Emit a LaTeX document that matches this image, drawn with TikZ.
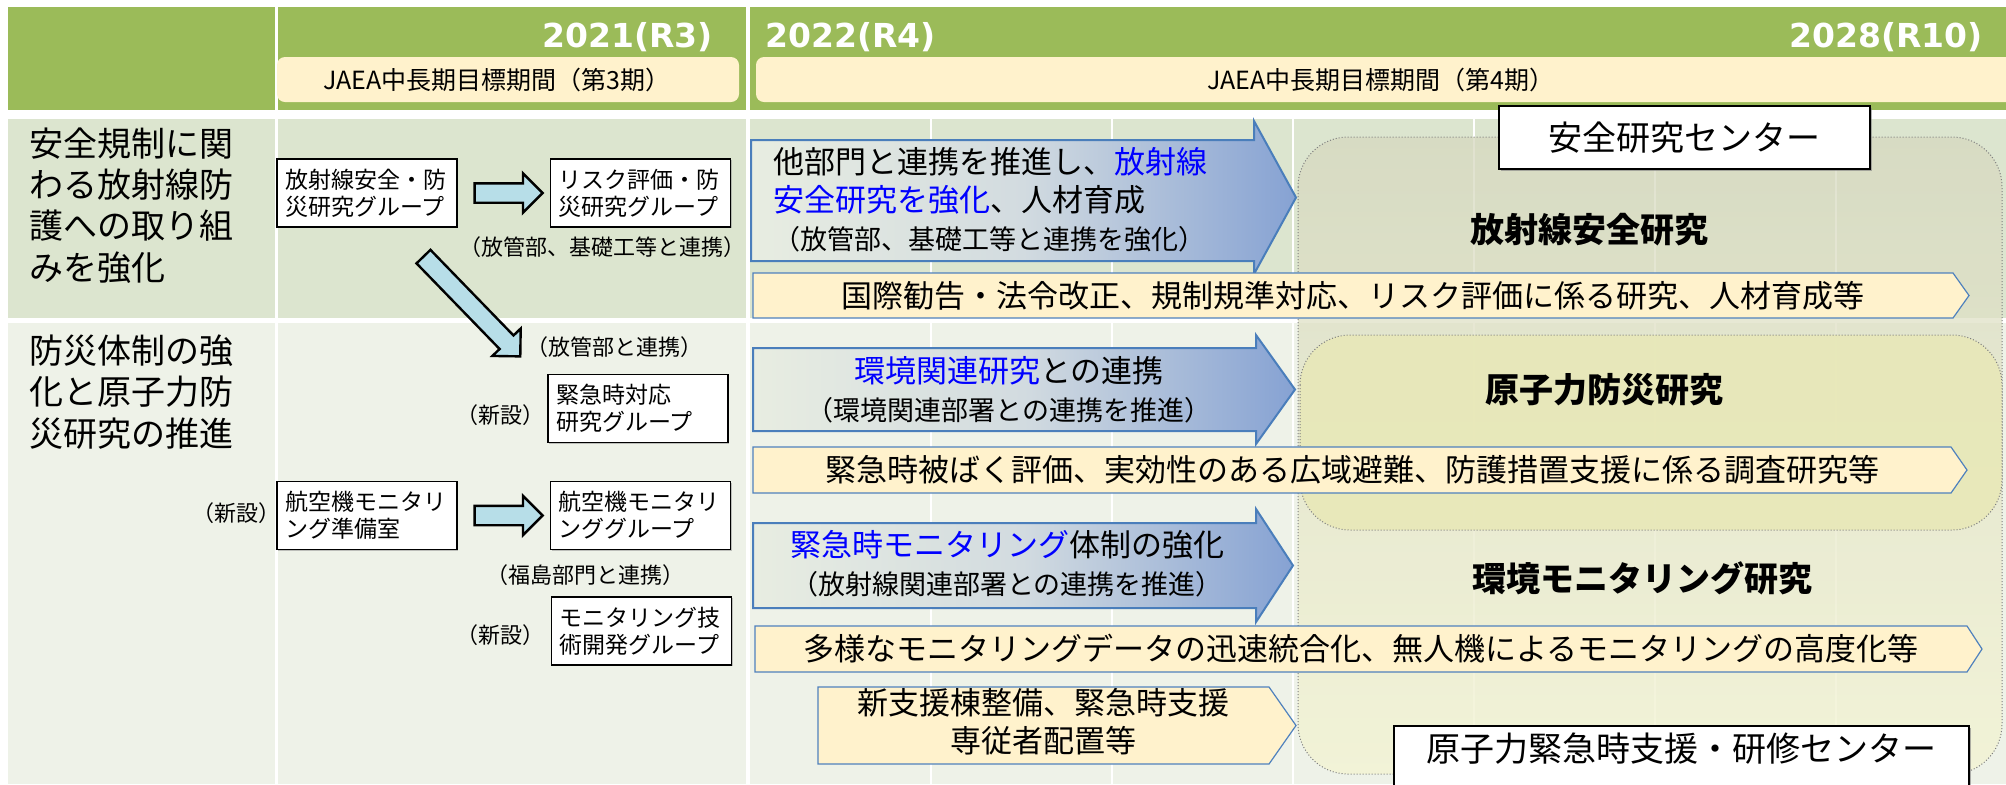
\documentclass[tikz,border=0pt]{standalone}
\usepackage{fontspec}
\setmainfont{Noto Sans CJK JP}
\newfontfamily\yearfont{DejaVu Sans}
\usetikzlibrary{shapes.arrows,positioning,calc,shadows}

\definecolor{hdrgreen}{HTML}{9BBB59}
\definecolor{hdryellow}{HTML}{FFF2CC}
\definecolor{rowone}{HTML}{DCE5CF}
\definecolor{rowtwo}{HTML}{EEF2E8}
\definecolor{barfill}{HTML}{FFF2CC}
\definecolor{barline}{HTML}{4F81BD}
\definecolor{arrline}{HTML}{4A7EBB}
\definecolor{arrleft}{HTML}{E8EDE1}
\definecolor{arrmid}{HTML}{D2DBE0}
\definecolor{arrright}{HTML}{86A2D3}
\definecolor{blkfill}{HTML}{B7DEE8}
\definecolor{ctrtop}{HTML}{D6D8C0}
\definecolor{ctrbot}{HTML}{F4F4D2}
\definecolor{bousai}{HTML}{E8E8B8}
\definecolor{dotline}{HTML}{7F7F7F}
\definecolor{linkblue}{HTML}{0000FF}

\newcommand{\fsbig}{\fontsize{17pt}{20.6pt}\selectfont}
\newcommand{\fsmid}{\fontsize{15.5pt}{19pt}\selectfont}
\newcommand{\fsparen}{\fontsize{13.5pt}{19pt}\selectfont}
\newcommand{\fsbox}{\fontsize{11.5pt}{13.5pt}\selectfont}
\newcommand{\fsnote}{\fontsize{11pt}{13pt}\selectfont}
\newcommand{\fshdr}{\fontsize{12.5pt}{15pt}\selectfont}

\begin{document}
\begin{tikzpicture}[x=0.5pt,y=-0.5pt,
    hdr/.style={fill=hdrgreen},
    period/.style={fill=hdryellow,rounded corners=4pt},
    year/.style={text=white,inner sep=0pt,font=\yearfont\fontsize{16.5pt}{20pt}\selectfont\bfseries},
    theme/.style={anchor=west,align=left,inner sep=0pt,font=\fsbig},
    grp/.style={draw=black,line width=0.8pt,fill=white,align=left,text width=82pt,inner xsep=4pt,
                minimum height=34pt,font=\fsbox,
                drop shadow={shadow xshift=0.7pt,shadow yshift=-0.7pt,opacity=0.45}},
    note/.style={inner sep=0pt,font=\fsnote},
    blkarr/.style={single arrow,draw=black,line width=1.2pt,fill=blkfill,inner sep=4.25pt,
                   single arrow head extend=5pt},
    fatarr/.style={draw=arrline,line width=1pt,left color=arrleft,right color=arrright,middle color=arrmid},
    bar/.style={draw=barline,line width=0.6pt,fill=barfill},
    bartext/.style={inner sep=0pt,font=\fsmid,align=center},
    ctr/.style={draw=black,line width=1pt,fill=white,font=\fsbig,
                drop shadow={shadow xshift=1.2pt,shadow yshift=-1.2pt,opacity=0.6}},
    topic/.style={inner sep=0pt,font=\fsbig\bfseries},
    dotbox/.style={draw=dotline,densely dotted,line width=0.5pt,rounded corners=25pt}]

\path[use as bounding box] (0,0) rectangle (2006,784);

% header
\fill[hdr] (8,7) rectangle (275,110);
\fill[hdr] (278,7) rectangle (746,110);
\fill[hdr] (750,7) rectangle (2006,110);
\fill[period] (277,57) rectangle (739,102);
\fill[period] (756,57) rectangle (2014,102);
\node[year,anchor=east] (y21) at (713,37) {2021(R3)};
\node[year,anchor=west] (y22) at (765,37) {2022(R4)};
\node[year,anchor=east] (y28) at (1983,37) {2028(R10)};
\node[font=\fshdr] (p3) at (497,80) {JAEA中長期目標期間（第3期）};
\node[font=\fshdr] (p4) at (1381,80) {JAEA中長期目標期間（第4期）};

% body rows
\fill[rowone] (8,119) rectangle (275,318);
\fill[rowone] (278,119) rectangle (746,318);
\fill[rowone] (750,119) rectangle (2006,318);
\fill[rowtwo] (8,323) rectangle (275,784);
\fill[rowtwo] (278,323) rectangle (746,784);
\fill[rowtwo] (750,323) rectangle (2006,784);
\foreach \gx in {931,1112,1293,1474,1655,1836}
  \draw[white,line width=1.2pt] (\gx,119) -- (\gx,318) (\gx,323) -- (\gx,784);

% centre areas
\path[dotbox,top color=ctrtop,bottom color=ctrbot,fill opacity=0.75] (1298,137) rectangle (2002,774);
\path[dotbox,fill=bousai,fill opacity=0.9] (1300,335) rectangle (2002,530);

% row themes
\node[theme] (th1) at (29,205.5) {安全規制に関\\わる放射線防\\護への取り組\\みを強化};
\node[theme] (th2) at (29,392) {防災体制の強\\化と原子力防\\災研究の推進};

% groups until R3
\node[grp] (radgrp) at (367,193) {放射線安全・防\\災研究グループ};
\node[grp,right=46pt of radgrp] (riskgrp) {リスク評価・防\\災研究グループ};
\node[grp] (emgrp) at (638,408.5) {緊急時対応\\研究グループ};
\node[grp] (airprep) at (367,515.5) {航空機モニタリ\\ング準備室};
\node[grp,right=46pt of airprep] (airgrp) {航空機モニタリ\\ンググループ};
\node[grp] (montech) at (641.5,631) {モニタリング技\\術開発グループ};

\node[note] (n1) at (602,247) {（放管部、基礎工等と連携）};
\node[note] (n2) at (614,347) {（放管部と連携）};
\node[note] (n3) at (585,575) {（福島部門と連携）};
\node[note] (new1) at (500,415) {（新設）};
\node[note] (new2) at (236,513) {（新設）};
\node[note] (new3) at (500,635) {（新設）};

\path (radgrp) -- node[blkarr,minimum height=34pt] {} (riskgrp);
\path (airprep) -- node[blkarr,minimum height=34pt] {} (airgrp);
\coordinate (dtail) at (420,253);
\coordinate (dtip) at (517,353);
\path (dtail) -- node[blkarr,sloped,minimum height=69.5pt] {} (dtip);

% R4 onwards
\path[fatarr] (751,140) -- (1254,140) -- (1254,121) -- (1296,197.5) -- (1254,274) -- (1254,261) -- (751,261) -- cycle;
\node[anchor=west,align=left,inner sep=0pt,font=\fsmid] (a1) at (773,200)
  {他部門と連携を推進し、\textcolor{linkblue}{放射線}\\\textcolor{linkblue}{安全研究を強化}、人材育成\\{\fsparen（放管部、基礎工等と連携を強化）}};
\path[bar] (753,273) -- (1953,273) -- (1969,295.5) -- (1953,318) -- (753,318) -- cycle;
\node[bartext] (b1) at (1353,295.5) {国際勧告・法令改正、規制規準対応、リスク評価に係る研究、人材育成等};

\path[fatarr] (753,348) -- (1256,348) -- (1256,335) -- (1295,389.5) -- (1256,444) -- (1256,431) -- (753,431) -- cycle;
\node[bartext] (a2) at (1009,390) {\textcolor{linkblue}{環境関連研究}との連携\\{\fsparen（環境関連部署との連携を推進）}};
\path[bar] (753,447) -- (1951,447) -- (1967,470) -- (1951,493) -- (753,493) -- cycle;
\node[bartext] (b2) at (1352,470) {緊急時被ばく評価、実効性のある広域避難、防護措置支援に係る調査研究等};

\path[fatarr] (753,523) -- (1256,523) -- (1256,509) -- (1293,565.5) -- (1256,622) -- (1256,608) -- (753,608) -- cycle;
\node[bartext] (a3) at (1007,563.5) {\textcolor{linkblue}{緊急時モニタリング}体制の強化\\{\fsparen（放射線関連部署との連携を推進）}};
\path[bar] (755,626) -- (1967,626) -- (1982,649) -- (1967,672) -- (755,672) -- cycle;
\node[bartext] (b3) at (1361,649) {多様なモニタリングデータの迅速統合化、無人機によるモニタリングの高度化等};

\path[bar] (818,687) -- (1269,687) -- (1296,725.5) -- (1269,764) -- (818,764) -- cycle;
\node[bartext] (b4) at (1043,722) {新支援棟整備、緊急時支援\\専従者配置等};

% research themes
\node[topic] (t1) at (1589,230) {放射線安全研究};
\node[topic] (t2) at (1604,390) {原子力防災研究};
\node[topic] (t3) at (1642,578) {環境モニタリング研究};

% centres
\node[ctr,minimum width=185.5pt,minimum height=31.5pt] (src) at (1684.5,137.5) {安全研究センター};
\node[ctr,anchor=north,minimum width=287.5pt,text depth=12pt] (nec) at (1681.5,725) {原子力緊急時支援・研修センター};
\end{tikzpicture}
\end{document}
